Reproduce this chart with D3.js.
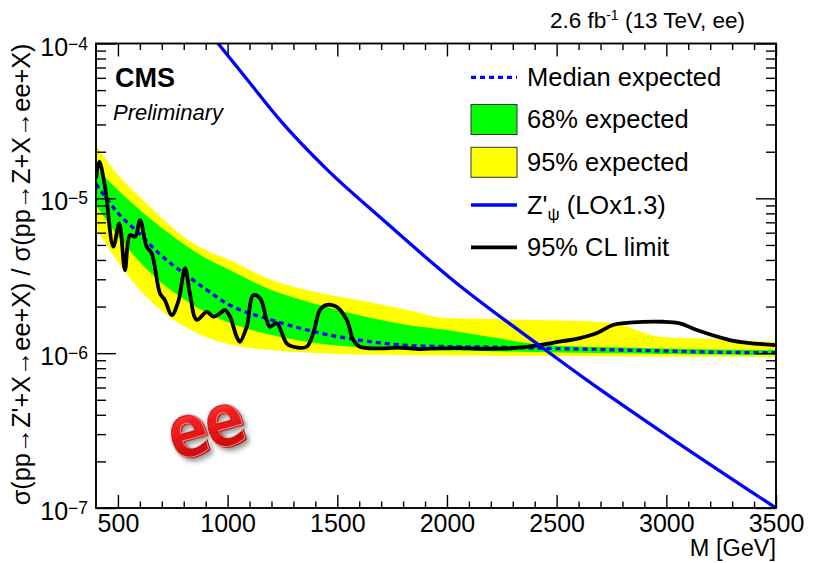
<!DOCTYPE html>
<html>
<head>
<meta charset="utf-8">
<script src="https://cdn.jsdelivr.net/npm/d3@7"></script>
<style>
  body { margin: 0; background: #fff; }
  svg { display: block; font-family: "Liberation Sans", Arial, Helvetica, sans-serif; }
</style>
</head>
<body>
<svg id="chart" width="817" height="563"></svg>
<script>
// Expected limit bands
const bandMass = [400, 500, 600, 700, 800, 900, 1000, 1200, 1400, 1600, 1800, 2000, 2200, 2400, 2600, 2750, 2980, 3200, 3500];
const medianExp = [1.24e-5, 8.04e-6, 5.88e-6, 4.24e-6, 3.29e-6, 2.59e-6, 2.08e-6, 1.64e-6, 1.37e-6, 1.215e-6, 1.128e-6, 1.103e-6, 1.095e-6, 1.079e-6, 1.063e-6, 1.051e-6, 1.033e-6, 1.016e-6, 1.006e-6];
const up95 = [2.21e-5, 1.414e-5, 1.019e-5, 7.46e-6, 5.62e-6, 4.63e-6, 4.05e-6, 2.97e-6, 2.48e-6, 2.20e-6, 1.93e-6, 1.685e-6, 1.66e-6, 1.636e-6, 1.612e-6, 1.565e-6, 1.27e-6, 1.234e-6, 1.18e-6];
const up68 = [1.57e-5, 1.131e-5, 8.40e-6, 6.43e-6, 5.07e-6, 4.11e-6, 3.49e-6, 2.56e-6, 2.08e-6, 1.76e-6, 1.54e-6, 1.41e-6, 1.27e-6, 1.145e-6, 1.103e-6, 1.09e-6, 1.071e-6, 1.055e-6, 1.047e-6];
const down68 = [9.05e-6, 5.71e-6, 3.88e-6, 2.84e-6, 2.24e-6, 1.84e-6, 1.588e-6, 1.31e-6, 1.162e-6, 1.087e-6, 1.055e-6, 1.039e-6, 1.028e-6, 1.016e-6, 1.005e-6, 0.998e-6, 0.988e-6, 0.98e-6, 0.972e-6];
const down95 = [6.43e-6, 3.88e-6, 2.56e-6, 1.87e-6, 1.496e-6, 1.27e-6, 1.145e-6, 1.047e-6, 1.002e-6, 0.979e-6, 0.972e-6, 0.965e-6, 0.962e-6, 0.958e-6, 0.955e-6, 0.952e-6, 0.949e-6, 0.947e-6, 0.944e-6];

// Observed 95% CL limit
const obsMass = [400, 415, 441, 479, 506, 532, 555, 578, 601, 631, 654, 692, 714, 745, 775, 806, 828, 859, 905, 935, 965, 988, 1011, 1041, 1056, 1087, 1117, 1148, 1178, 1193, 1224, 1269, 1299, 1360, 1390, 1421, 1452, 1497, 1543, 1573, 1603, 1694, 1780, 1877, 1960, 2059, 2150, 2241, 2301, 2424, 2483, 2606, 2684, 2756, 2848, 2984, 3062, 3139, 3290, 3367, 3500];
const obsLimit = [1.346e-5, 1.723e-5, 1.189e-5, 4.87e-6, 6.89e-6, 3.44e-6, 5.79e-6, 5.65e-6, 7.24e-6, 4.87e-6, 4.41e-6, 2.43e-6, 2.20e-6, 1.76e-6, 2.15e-6, 3.53e-6, 2.43e-6, 1.64e-6, 1.85e-6, 1.72e-6, 1.81e-6, 1.90e-6, 1.72e-6, 1.28e-6, 1.185e-6, 1.48e-6, 2.37e-6, 2.26e-6, 1.64e-6, 1.48e-6, 1.56e-6, 1.157e-6, 1.10e-6, 1.10e-6, 1.343e-6, 1.90e-6, 2.05e-6, 1.99e-6, 1.64e-6, 1.215e-6, 1.10e-6, 1.074e-6, 1.085e-6, 1.063e-6, 1.075e-6, 1.079e-6, 1.068e-6, 1.071e-6, 1.079e-6, 1.128e-6, 1.167e-6, 1.252e-6, 1.349e-6, 1.519e-6, 1.58e-6, 1.595e-6, 1.558e-6, 1.41e-6, 1.215e-6, 1.167e-6, 1.128e-6];

// Z'_psi theory curve
const zpMass = [940, 1100, 1239, 1450, 1694, 2027, 2437, 2638, 3000, 3500];
const zpXsec = [1.07e-4, 5.6e-5, 3.2e-5, 1.55e-5, 7.57e-6, 2.96e-6, 1.08e-6, 6.7e-7, 2.96e-7, 1.0e-7];

const xMajor = [500, 1000, 1500, 2000, 2500, 3000, 3500];
const yDecades = [1e-7, 1e-6, 1e-5, 1e-4];
const yDecadeExp = ["−7", "−6", "−5", "−4"];

const legendLabels = ["Median expected", "68% expected", "95% expected", "Z'ψ (LOx1.3)", "95% CL limit"];

const frame = {left: 96, right: 776, top: 43.5, bottom: 508};
const green = "#00ff00", yellow = "#ffff00", blue = "#0000ff";
const dash = "5,4";

const svg = d3.select("#chart");
const x = d3.scaleLinear().domain([400, 3500]).range([frame.left, frame.right]);
const y = d3.scaleLog().domain([1e-7, 1e-4]).range([frame.bottom, frame.top]);

const defs = svg.append("defs");
defs.append("clipPath").attr("id", "plotClip")
    .append("rect")
    .attr("x", frame.left).attr("y", frame.top)
    .attr("width", frame.right - frame.left).attr("height", frame.bottom - frame.top);

const plot = svg.append("g").attr("clip-path", "url(#plotClip)");

const bandRows = bandMass.map((m, i) => ({m, med: medianExp[i], u95: up95[i], u68: up68[i], d68: down68[i], d95: down95[i]}));

const band = (lo, hi) => d3.area()
    .x(d => x(d.m))
    .y0(d => y(d[lo]))
    .y1(d => y(d[hi]))
    .curve(d3.curveMonotoneX);

plot.append("path").datum(bandRows).attr("d", band("d95", "u95")).attr("fill", yellow);
plot.append("path").datum(bandRows).attr("d", band("d68", "u68")).attr("fill", green);

plot.append("path").datum(bandRows)
    .attr("d", d3.line().x(d => x(d.m)).y(d => y(d.med)).curve(d3.curveMonotoneX))
    .attr("fill", "none").attr("stroke", blue).attr("stroke-width", 3.3)
    .attr("stroke-dasharray", dash);

const obsRows = obsMass.map((m, i) => ({m, v: obsLimit[i]}));
plot.append("path").datum(obsRows)
    .attr("d", d3.line().x(d => x(d.m)).y(d => y(d.v)).curve(d3.curveCatmullRom.alpha(0.5)))
    .attr("fill", "none").attr("stroke", "#000").attr("stroke-width", 3.8)
    .attr("stroke-linejoin", "round");

const zpRows = zpMass.map((m, i) => ({m, v: zpXsec[i]}));
plot.append("path").datum(zpRows)
    .attr("d", d3.line().x(d => x(d.m)).y(d => y(d.v)).curve(d3.curveMonotoneX))
    .attr("fill", "none").attr("stroke", blue).attr("stroke-width", 3.3);

// Frame + ticks on all four sides, pointing inwards
const xMinor = d3.range(500, 3501, 100).filter(v => v % 500 !== 0);
const yMinor = [];
yDecades.slice(0, 3).forEach(d => { for (let k = 2; k <= 9; k++) yMinor.push(k * d); });

const axes = svg.append("g").attr("stroke-width", 1.4);
const noDomain = g => g.select(".domain").remove();

axes.append("g").attr("transform", `translate(0,${frame.bottom})`)
    .call(d3.axisBottom(x).tickValues(xMajor).tickSizeInner(-13).tickSizeOuter(0).tickPadding(6).tickFormat(d3.format("d")))
    .call(noDomain)
    .call(g => g.selectAll("text").attr("font-size", 25).attr("fill", "#000").attr("font-family", "Liberation Sans, Arial, sans-serif"));
axes.append("g").attr("transform", `translate(0,${frame.bottom})`)
    .call(d3.axisBottom(x).tickValues(xMinor).tickSizeInner(-6.5).tickSizeOuter(0).tickFormat(""))
    .call(noDomain);
axes.append("g").attr("transform", `translate(0,${frame.top})`)
    .call(d3.axisTop(x).tickValues(xMajor).tickSizeInner(-13).tickSizeOuter(0).tickFormat(""))
    .call(noDomain);
axes.append("g").attr("transform", `translate(0,${frame.top})`)
    .call(d3.axisTop(x).tickValues(xMinor).tickSizeInner(-6.5).tickSizeOuter(0).tickFormat(""))
    .call(noDomain);

axes.append("g").attr("transform", `translate(${frame.left},0)`)
    .call(d3.axisLeft(y).tickValues(yDecades).tickSizeInner(-20).tickSizeOuter(0).tickFormat(""))
    .call(noDomain);
axes.append("g").attr("transform", `translate(${frame.left},0)`)
    .call(d3.axisLeft(y).tickValues(yMinor).tickSizeInner(-10).tickSizeOuter(0).tickFormat(""))
    .call(noDomain);
axes.append("g").attr("transform", `translate(${frame.right},0)`)
    .call(d3.axisRight(y).tickValues(yDecades).tickSizeInner(-20).tickSizeOuter(0).tickFormat(""))
    .call(noDomain);
axes.append("g").attr("transform", `translate(${frame.right},0)`)
    .call(d3.axisRight(y).tickValues(yMinor).tickSizeInner(-10).tickSizeOuter(0).tickFormat(""))
    .call(noDomain);

svg.append("rect")
    .attr("x", frame.left).attr("y", frame.top)
    .attr("width", frame.right - frame.left).attr("height", frame.bottom - frame.top)
    .attr("fill", "none").attr("stroke", "#000").attr("stroke-width", 1.9);

// y tick labels 10^n
const yLab = svg.append("g").attr("font-size", 25).attr("text-anchor", "end");
yDecades.forEach((d, i) => {
    const t = yLab.append("text").attr("x", 88).attr("y", y(d) + 12);
    t.append("tspan").text("10");
    t.append("tspan").attr("font-size", 17.5).attr("dy", -6).text(yDecadeExp[i]);
});

// axis titles
svg.append("text")
    .attr("x", frame.right).attr("y", 556)
    .attr("text-anchor", "end").attr("font-size", 23.5)
    .text("M [GeV]");

const yTitle = svg.append("text")
    .attr("transform", `translate(30,${frame.top}) rotate(-90)`)
    .attr("text-anchor", "end").attr("font-size", 24)
    .text("σ(pp→Z'+X→ee+X) / σ(pp→Z+X→ee+X)");
const titleLen = yTitle.node().getComputedTextLength();
yTitle.attr("font-size", 24 * 462 / titleLen);

// lumi label
const lumi = svg.append("text").attr("x", 745).attr("y", 28).attr("text-anchor", "end").attr("font-size", 22.5);
lumi.append("tspan").text("2.6 fb");
lumi.append("tspan").attr("font-size", 14).attr("dy", -8).text("-1");
lumi.append("tspan").attr("dy", 8).text(" (13 TeV, ee)");

svg.append("text").attr("x", 115).attr("y", 87).attr("font-size", 27).attr("font-weight", "bold").text("CMS");
svg.append("text").attr("x", 113).attr("y", 120).attr("font-size", 22).attr("font-style", "italic").text("Preliminary");

// legend
const leg = svg.append("g");
const rowY = [77.3, 119.5, 162.3, 205, 247.3];
const lx0 = 471, lx1 = 517;
leg.append("line").attr("x1", lx0).attr("x2", lx1).attr("y1", rowY[0]).attr("y2", rowY[0])
    .attr("stroke", blue).attr("stroke-width", 3.3).attr("stroke-dasharray", dash);
leg.append("rect").attr("x", lx0).attr("y", rowY[1] - 15).attr("width", lx1 - lx0).attr("height", 30)
    .attr("fill", green).attr("stroke", "#333").attr("stroke-width", 1);
leg.append("rect").attr("x", lx0).attr("y", rowY[2] - 15).attr("width", lx1 - lx0).attr("height", 30)
    .attr("fill", yellow).attr("stroke", "#333").attr("stroke-width", 1);
leg.append("line").attr("x1", lx0).attr("x2", lx1).attr("y1", rowY[3]).attr("y2", rowY[3])
    .attr("stroke", blue).attr("stroke-width", 3.3);
leg.append("line").attr("x1", lx0).attr("x2", lx1).attr("y1", rowY[4]).attr("y2", rowY[4])
    .attr("stroke", "#000").attr("stroke-width", 3.8);

legendLabels.forEach((lab, i) => {
    const t = leg.append("text").attr("x", 527).attr("y", rowY[i] + 8.8).attr("font-size", 25.5);
    if (lab.startsWith("Z'ψ")) {
        t.append("tspan").text("Z'");
        t.append("tspan").attr("font-size", 17).attr("dy", 6).text("ψ");
        t.append("tspan").attr("dy", -6).text(lab.slice(3));
    } else {
        t.text(lab);
    }
});

// red "ee" badge
const grad = defs.append("linearGradient").attr("id", "eeGrad").attr("x1", 0).attr("y1", 0).attr("x2", 0).attr("y2", 1);
grad.append("stop").attr("offset", "0%").attr("stop-color", "#ff9a9a");
grad.append("stop").attr("offset", "40%").attr("stop-color", "#f52020");
grad.append("stop").attr("offset", "100%").attr("stop-color", "#b80000");
const shadow = defs.append("filter").attr("id", "eeShadow").attr("x", "-30%").attr("y", "-30%").attr("width", "160%").attr("height", "160%");
shadow.append("feDropShadow").attr("dx", 2).attr("dy", 3).attr("stdDeviation", 2)
    .attr("flood-color", "#444").attr("flood-opacity", 0.55);

const badge = svg.append("g")
    .attr("transform", "translate(208,437) rotate(-16) scale(1,1.25)");
badge.append("text")
    .attr("y", 12)
    .attr("text-anchor", "middle")
    .attr("font-family", "DejaVu Sans")
    .attr("font-weight", "bold")
    .attr("font-size", 60)
    .attr("letter-spacing", -3)
    .attr("fill", "url(#eeGrad)")
    .attr("stroke", "#a00000").attr("stroke-width", 0.8)
    .attr("filter", "url(#eeShadow)")
    .text("ee");
badge.append("text")
    .attr("x", -1).attr("y", 11)
    .attr("text-anchor", "middle")
    .attr("font-family", "DejaVu Sans")
    .attr("font-weight", "bold")
    .attr("font-size", 60)
    .attr("letter-spacing", -3)
    .attr("fill", "none")
    .attr("stroke", "#ffd0d0").attr("stroke-width", 0.7).attr("stroke-opacity", 0.7)
    .text("ee");
</script>
</body>
</html>
